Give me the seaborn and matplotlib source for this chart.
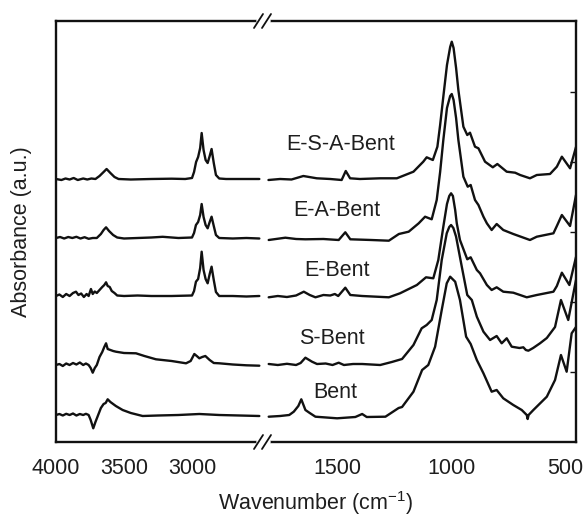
import matplotlib
matplotlib.use("Agg")
import matplotlib.pyplot as plt
from matplotlib.lines import Line2D
import pandas as pd
import seaborn as sns

# ── spectra (wavenumber, absorbance above own baseline) ─────────────────────
SAMPLES = ["E-S-A-Bent", "E-A-Bent", "E-Bent", "S-Bent", "Bent"]
OFFSETS = [2.63, 2.04, 1.46, 0.77, 0.27]
LABEL_WN = [1484, 1500, 1500, 1522, 1510]
LABEL_Y = [2.97, 2.32, 1.72, 1.04, 0.50]

ESA_HIGH = [(4000, 0.0), (3960, -0.01), (3930, 0.005), (3900, -0.005), (3870, 0.01),
            (3840, -0.01), (3800, 0.005), (3770, -0.005), (3740, 0.005), (3710, 0.0),
            (3680, 0.03), (3650, 0.07), (3628, 0.10), (3600, 0.06), (3570, 0.02),
            (3540, 0.0), (3450, -0.005), (3300, 0.0), (3150, 0.003), (3050, 0.0),
            (3000, 0.01), (2985, 0.07), (2970, 0.17), (2955, 0.22), (2940, 0.31),
            (2929, 0.46), (2915, 0.29), (2900, 0.19), (2885, 0.16), (2870, 0.23),
            (2856, 0.30), (2840, 0.16), (2824, 0.04), (2800, 0.005), (2750, 0.0),
            (2650, 0.0), (2505, 0.0)]
ESA_LOW = [(1801, -0.01), (1750, 0.0), (1700, -0.005), (1648, 0.03), (1589, 0.007),
           (1530, 0.0), (1480, -0.01), (1462, 0.08), (1443, 0.007), (1400, 0.0),
           (1311, 0.007), (1238, 0.007), (1165, 0.073), (1122, 0.173), (1107, 0.217),
           (1080, 0.19), (1060, 0.323), (1048, 0.54), (1034, 0.823), (1018, 1.14),
           (1004, 1.32), (997, 1.373), (989, 1.31), (978, 1.11), (968, 0.89),
           (946, 0.523), (929, 0.44), (917, 0.463), (895, 0.323), (880, 0.307),
           (851, 0.173), (817, 0.117), (797, 0.15), (756, 0.073), (719, 0.063),
           (697, 0.04), (654, 0.007), (624, 0.04), (566, 0.05), (536, 0.123),
           (514, 0.223), (478, 0.107), (452, 0.32)]

EA_HIGH = [(4000, 0.0), (3970, 0.01), (3940, -0.005), (3910, 0.01), (3880, 0.0),
           (3850, 0.012), (3820, -0.005), (3790, 0.008), (3760, -0.008), (3730, 0.0),
           (3700, 0.0), (3670, 0.04), (3650, 0.08), (3632, 0.107), (3610, 0.07),
           (3580, 0.03), (3550, 0.005), (3500, -0.005), (3400, 0.0), (3300, 0.005),
           (3216, 0.012), (3100, 0.0), (3000, 0.005), (2985, 0.05), (2971, 0.13),
           (2955, 0.16), (2940, 0.23), (2929, 0.34), (2915, 0.21), (2900, 0.13),
           (2885, 0.097), (2870, 0.16), (2856, 0.213), (2840, 0.12), (2824, 0.03),
           (2800, 0.0), (2700, -0.005), (2600, 0.0), (2505, -0.005)]
EA_LOW = [(1800, -0.02), (1727, 0.003), (1680, -0.01), (1639, -0.013), (1560, -0.01),
          (1493, -0.02), (1464, 0.057), (1442, -0.013), (1350, -0.02), (1273, -0.027),
          (1229, 0.04), (1186, 0.063), (1142, 0.147), (1114, 0.213), (1085, 0.187),
          (1063, 0.38), (1048, 0.66), (1034, 0.98), (1018, 1.30), (1004, 1.42),
          (997, 1.44), (989, 1.38), (978, 1.20), (968, 0.98), (946, 0.613),
          (927, 0.513), (914, 0.53), (895, 0.38), (880, 0.33), (858, 0.213),
          (843, 0.147), (822, 0.08), (800, 0.14), (771, 0.08), (727, 0.04),
          (654, -0.02), (624, 0.013), (551, 0.047), (536, 0.12), (514, 0.23),
          (478, 0.12), (452, 0.43)]

EB_HIGH = [(4000, 0.0), (3975, 0.015), (3950, -0.01), (3925, 0.02), (3900, 0.0),
           (3875, 0.03), (3853, 0.043), (3835, 0.01), (3815, 0.025), (3795, -0.01),
           (3775, 0.02), (3760, 0.0), (3743, 0.07), (3730, 0.02), (3715, 0.045),
           (3700, 0.03), (3680, 0.06), (3660, 0.09), (3645, 0.11), (3632, 0.137),
           (3620, 0.10), (3605, 0.09), (3590, 0.05), (3570, 0.03), (3550, 0.005),
           (3500, 0.0), (3400, 0.005), (3300, 0.0), (3150, 0.0), (3000, 0.005),
           (2985, 0.05), (2971, 0.143), (2955, 0.17), (2940, 0.28), (2929, 0.443),
           (2915, 0.26), (2900, 0.17), (2885, 0.127), (2870, 0.22), (2856, 0.293),
           (2840, 0.16), (2824, 0.04), (2800, 0.0), (2700, 0.0), (2600, -0.005),
           (2505, 0.0)]
EB_LOW = [(1800, -0.013), (1760, 0.0), (1720, -0.01), (1680, 0.005), (1646, 0.043),
          (1620, 0.01), (1595, -0.013), (1560, 0.01), (1530, 0.005), (1510, 0.02),
          (1495, 0.0), (1464, 0.083), (1442, 0.01), (1390, 0.0), (1273, -0.013),
          (1224, 0.027), (1150, 0.11), (1110, 0.187), (1078, 0.177), (1056, 0.36),
          (1034, 0.693), (1018, 0.92), (1008, 1.0), (1000, 1.027), (992, 1.0),
          (982, 0.86), (975, 0.727), (961, 0.56), (929, 0.367), (914, 0.387),
          (887, 0.26), (873, 0.227), (843, 0.11), (822, 0.06), (800, 0.087),
          (771, 0.043), (727, 0.033), (668, -0.013), (624, 0.01), (551, 0.043),
          (536, 0.10), (514, 0.233), (481, 0.11), (452, 0.39)]

SB_HIGH = [(4000, 0.0), (3975, 0.01), (3950, -0.01), (3925, 0.015), (3900, 0.0),
           (3875, 0.02), (3850, 0.005), (3825, 0.025), (3800, 0.0), (3780, 0.015),
           (3760, 0.0), (3745, -0.03), (3730, -0.077), (3715, -0.03), (3700, 0.0),
           (3680, 0.08), (3660, 0.13), (3645, 0.18), (3632, 0.217), (3620, 0.16),
           (3600, 0.15), (3580, 0.14), (3559, 0.133), (3500, 0.12), (3412, 0.117),
           (3350, 0.09), (3265, 0.057), (3150, 0.04), (3044, 0.017), (3010, 0.04),
           (2983, 0.11), (2965, 0.09), (2946, 0.067), (2925, 0.08), (2902, 0.09),
           (2870, 0.05), (2840, 0.02), (2799, 0.017), (2700, 0.005), (2600, -0.003),
           (2505, -0.007)]
SB_LOW = [(1800, 0.01), (1760, 0.0), (1720, 0.012), (1680, 0.0), (1660, 0.02),
          (1639, 0.073), (1610, 0.033), (1588, 0.01), (1550, 0.015), (1520, 0.0),
          (1493, 0.023), (1470, 0.0), (1430, 0.01), (1390, 0.01), (1311, 0.0),
          (1260, 0.03), (1215, 0.06), (1165, 0.20), (1129, 0.367), (1107, 0.40),
          (1085, 0.45), (1063, 0.65), (1041, 1.05), (1019, 1.317), (1008, 1.38),
          (1000, 1.40), (990, 1.37), (978, 1.283), (953, 0.983), (929, 0.70),
          (909, 0.65), (887, 0.483), (858, 0.333), (829, 0.25), (800, 0.29),
          (778, 0.217), (756, 0.267), (734, 0.183), (700, 0.17), (683, 0.177),
          (672, 0.15), (661, 0.143), (640, 0.17), (610, 0.217), (580, 0.27),
          (544, 0.38), (518, 0.65), (486, 0.45), (452, 0.85)]

BENT_HIGH = [(4000, 0.0), (3975, 0.01), (3950, -0.005), (3925, 0.012), (3900, 0.0),
             (3875, 0.015), (3850, -0.005), (3825, 0.01), (3800, 0.0), (3780, 0.012),
             (3760, 0.0), (3745, -0.05), (3726, -0.133), (3710, -0.07), (3690, 0.0),
             (3670, 0.07), (3650, 0.11), (3635, 0.12), (3620, 0.157), (3600, 0.13),
             (3560, 0.09), (3510, 0.05), (3450, 0.02), (3363, -0.01), (3250, -0.005),
             (3100, 0.0), (2946, 0.01), (2800, 0.0), (2650, -0.005), (2505, -0.01)]
BENT_LOW = [(1800, -0.017), (1750, -0.01), (1710, 0.0), (1690, 0.033), (1670, 0.09),
            (1657, 0.157), (1639, 0.05), (1620, 0.02), (1595, -0.017), (1500, -0.033),
            (1420, -0.02), (1390, 0.01), (1370, -0.02), (1288, -0.017), (1230, 0.07),
            (1215, 0.08), (1165, 0.233), (1127, 0.45), (1100, 0.50), (1070, 0.683),
            (1041, 1.05), (1019, 1.317), (1004, 1.383), (982, 1.333), (961, 1.15),
            (934, 0.783), (914, 0.71), (887, 0.55), (858, 0.417), (822, 0.233),
            (800, 0.25), (771, 0.167), (727, 0.10), (690, 0.05), (668, 0.0),
            (664, -0.04), (660, 0.0), (639, 0.05), (580, 0.183), (544, 0.35),
            (518, 0.60), (493, 0.433), (471, 0.817), (452, 0.88)]

HIGH = [ESA_HIGH, EA_HIGH, EB_HIGH, SB_HIGH, BENT_HIGH]
LOW = [ESA_LOW, EA_LOW, EB_LOW, SB_LOW, BENT_LOW]


def to_frame(segments):
    rows = []
    for name, off, pts in zip(SAMPLES, OFFSETS, segments):
        for wn, a in pts:
            rows.append({"sample": name, "wn": wn, "a": a + off})
    return pd.DataFrame(rows)


sns.set_style("white")
plt.rcParams["font.family"] = ["Liberation Sans", "DejaVu Sans"]
plt.rcParams["mathtext.default"] = "regular"

W, H = 584, 519
FS = 15.5
LW = 1.7
TXT = "#1e1e1e"

fig = plt.figure(figsize=(W / 100, H / 100), dpi=100)
axL = fig.add_axes([56 / W, 77 / H, 207 / W, 421 / H])
axR = fig.add_axes([263 / W, 77 / H, 313 / W, 421 / H])

for ax, segs in ((axL, HIGH), (axR, LOW)):
    sns.lineplot(data=to_frame(segs), x="wn", y="a", units="sample",
                 estimator=None, color="#111111", lw=LW, ax=ax, legend=False)
    ax.set_xlabel("")
    ax.set_ylabel("")
    ax.set_ylim(0, 4.21)
    for sp in ax.spines.values():
        sp.set_linewidth(LW)
        sp.set_color("#111111")
    ax.tick_params(axis="x", which="both", direction="out", labelsize=FS,
                   pad=7.5, width=LW, length=4, color="#111111", labelcolor=TXT)

axL.set_xlim(4000, 2478)
axL.set_xticks([4000, 3500, 3000])
axL.set_xticks([3750, 3250, 2750], minor=True)
axL.spines["right"].set_visible(False)
axL.tick_params(axis="y", left=False, right=False, labelleft=False)

axR.set_xlim(1825, 452)
axR.set_xticks([1500, 1000, 500])
axR.set_xticks([1750, 1250, 750], minor=True)
axR.spines["left"].set_visible(False)
axR.set_yticks([0.7, 1.4, 2.1, 2.8, 3.5])
axR.tick_params(axis="y", left=False, right=True, labelleft=False, labelright=False,
                direction="in", length=4, width=1.0, color="#111111")

for name, wn, y in zip(SAMPLES, LABEL_WN, LABEL_Y):
    axR.text(wn, y, name, ha="center", va="center", fontsize=FS, color=TXT)

# axis break marks
def brk(ycen):
    fig.add_artist(Line2D([259 / W, 268 / W], [1 - ycen / H, 1 - ycen / H],
                          color="white", lw=4, transform=fig.transFigure))
    for dx in (0, 8):
        x0, x1 = 254 + dx, 263 + dx
        fig.add_artist(Line2D([x0 / W, x1 / W], [1 - (ycen + 7) / H, 1 - (ycen - 7) / H],
                              color="#111111", lw=1.3, transform=fig.transFigure))

brk(21)
brk(442)

fig.text(316 / W, 1 - 503 / H, "Wavenumber (cm$^{-1}$)", ha="center", va="center",
         fontsize=FS, color=TXT)
fig.text(22 / W, 1 - 231.5 / H, "Absorbance (a.u.)", ha="center", va="center",
         rotation=90, fontsize=FS, color=TXT)

fig.savefig("out.png", dpi=100)
